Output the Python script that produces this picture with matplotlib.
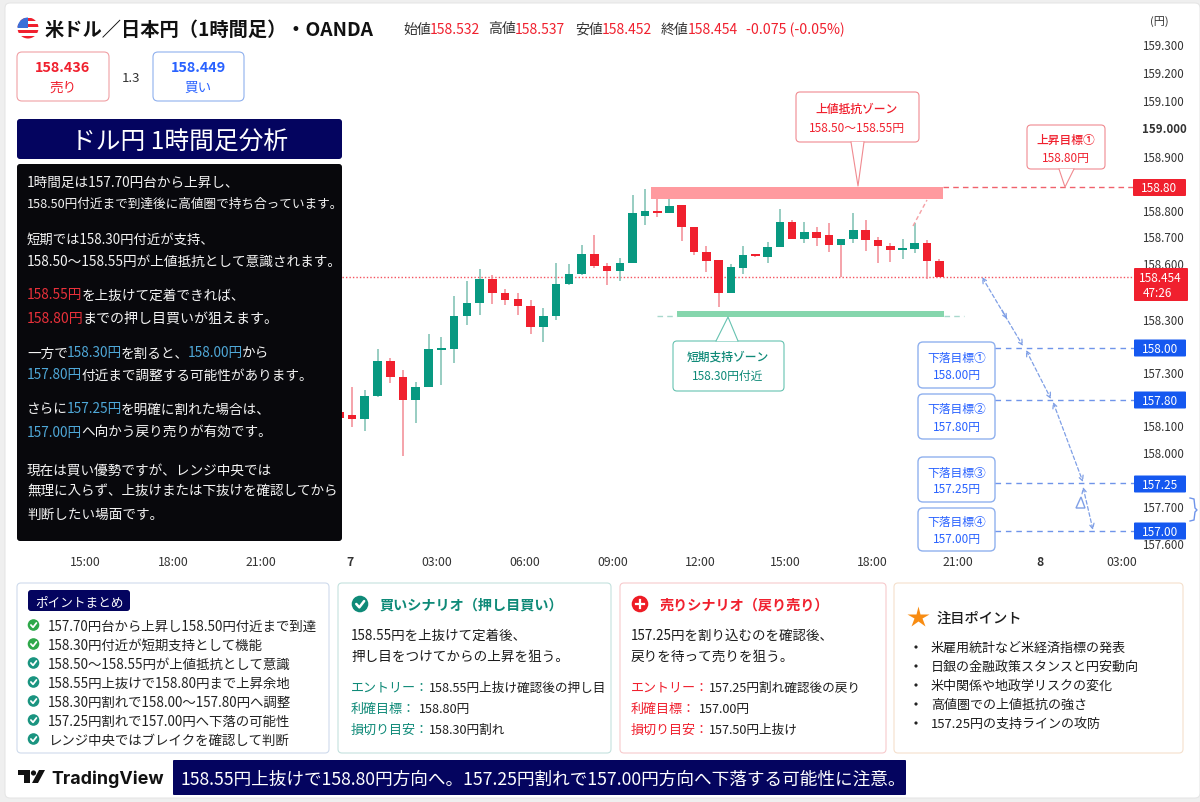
import matplotlib
matplotlib.use('Agg')
import matplotlib.pyplot as plt
import numpy as np
from matplotlib.patches import Circle, FancyBboxPatch, Polygon, Rectangle

plt.rcParams['font.family'] = ['Noto Sans CJK JP', 'DejaVu Sans']

# candles (hourly)
opens = [157.935, 157.923, 157.907, 157.996, 158.130, 158.068, 157.981, 158.030, 158.173, 158.176,
         158.304, 158.353, 158.448, 158.394, 158.368, 158.344, 158.263, 158.304, 158.427, 158.466,
         158.544, 158.496, 158.478, 158.509, 158.689, 158.709, 158.701, 158.730, 158.648, 158.549,
         158.519, 158.391, 158.490, 158.541, 158.532, 158.571, 158.664, 158.601, 158.626, 158.614,
         158.578, 158.599, 158.635, 158.596, 158.573, 158.557, 158.560, 158.585, 158.517]
highs = [157.960, 158.030, 158.019, 158.178, 158.141, 158.096, 158.050, 158.235, 158.224, 158.381,
         158.437, 158.486, 158.462, 158.407, 158.391, 158.366, 158.333, 158.509, 158.503, 158.578,
         158.614, 158.506, 158.526, 158.769, 158.791, 158.769, 158.757, 158.730, 158.648, 158.573,
         158.519, 158.503, 158.573, 158.541, 158.590, 158.714, 158.673, 158.667, 158.648, 158.663,
         158.599, 158.699, 158.673, 158.609, 158.583, 158.599, 158.663, 158.596, 158.522]
lows = [157.880, 157.876, 157.863, 157.994, 158.045, 157.766, 157.891, 158.030, 158.039, 158.122,
        158.268, 158.307, 158.350, 158.345, 158.307, 158.235, 158.205, 158.289, 158.423, 158.462,
        158.487, 158.423, 158.440, 158.506, 158.653, 158.686, 158.699, 158.594, 158.539, 158.475,
        158.340, 158.391, 158.466, 158.532, 158.506, 158.571, 158.600, 158.586, 158.573, 158.550,
        158.455, 158.586, 158.553, 158.509, 158.513, 158.522, 158.545, 158.448, 158.453]
closes = [157.910, 157.907, 157.996, 158.130, 158.068, 157.981, 158.030, 158.176, 158.178, 158.304,
          158.353, 158.445, 158.394, 158.366, 158.342, 158.263, 158.304, 158.427, 158.466, 158.544,
          158.496, 158.478, 158.509, 158.699, 158.709, 158.701, 158.728, 158.648, 158.549, 158.517,
          158.391, 158.491, 158.540, 158.533, 158.571, 158.666, 158.600, 158.626, 158.604, 158.578,
          158.599, 158.635, 158.596, 158.573, 158.557, 158.564, 158.585, 158.517, 158.454]

time_labels = ['15:00', '18:00', '21:00', '7', '03:00', '06:00', '09:00', '12:00',
               '15:00', '18:00', '21:00', '8', '03:00']
price_labels = ['159.300', '159.200', '159.100', '159.000', '158.900', '158.800', '158.700',
                '158.600', '158.300', '157.300', '158.100', '158.000', '157.700', '157.600']

# analysis panel: list of lines, each one a list of (text, colour key)
analysis_lines = [
    [('1時間足は157.70円台から上昇し、', 'w')],
    [('158.50円付近まで到達後に高値圏で持ち合っています。', 'w')],
    [('短期では158.30円付近が支持、', 'w')],
    [('158.50〜158.55円が上値抵抗として意識されます。', 'w')],
    [('158.55円', 'r'), ('を上抜けて定着できれば、', 'w')],
    [('158.80円', 'r'), ('までの押し目買いが狙えます。', 'w')],
    [('一方で', 'w'), ('158.30円', 'b'), ('を割ると、', 'w'), ('158.00円', 'b'), ('から', 'w')],
    [('157.80円', 'b'), ('付近まで調整する可能性があります。', 'w')],
    [('さらに', 'w'), ('157.25円', 'b'), ('を明確に割れた場合は、', 'w')],
    [('157.00円', 'b'), ('へ向かう戻り売りが有効です。', 'w')],
    [('現在は買い優勢ですが、レンジ中央では', 'w')],
    [('無理に入らず、上抜けまたは下抜けを確認してから', 'w')],
    [('判断したい場面です。', 'w')],
]
summary_items = ['157.70円台から上昇し158.50円付近まで到達', '158.30円付近が短期支持として機能',
                 '158.50〜158.55円が上値抵抗として意識', '158.55円上抜けで158.80円まで上昇余地',
                 '158.30円割れで158.00〜157.80円へ調整', '157.25円割れで157.00円へ下落の可能性',
                 'レンジ中央ではブレイクを確認して判断']
watch_items = ['米雇用統計など米経済指標の発表', '日銀の金融政策スタンスと円安動向',
               '米中関係や地政学リスクの変化', '高値圏での上値抵抗の強さ', '157.25円の支持ラインの攻防']

GREEN = '#089981'
RED = '#f0202e'
BLUE = '#2962ff'
NAVY = '#04045f'
TEAL = '#0f8a78'
DARK = '#1c1c1c'
W, H = 1200, 802


def price_at(y_px):
    # chart scale: 158.454 sits at y=277 and 0.1 is 26 px
    return 158.454 + (277 - y_px) / 260


fig = plt.figure(figsize=(12, 8.02), dpi=100, facecolor='#efefef')


def px_axes(zorder):
    a = fig.add_axes([0, 0, 1, 1], zorder=zorder)
    a.set_xlim(0, W)
    a.set_ylim(H, 0)
    a.axis('off')
    a.patch.set_alpha(0)
    return a


bg = px_axes(0)
bg.add_patch(FancyBboxPatch((5, 3), 1195, 795, boxstyle='round,pad=0,rounding_size=5',
                            fc='white', ec='#e6e6e6', lw=0.8))

# chart area, x in px because the candles are not evenly spaced in the picture
top_px, bottom_px, right_px = 38, 552, 1135
ax = fig.add_axes([0, 1 - bottom_px / H, right_px / W, (bottom_px - top_px) / H], zorder=1)
ax.patch.set_alpha(0)
ax.set_xlim(0, right_px)
ax.set_ylim(price_at(bottom_px), price_at(top_px))
for s in ax.spines.values():
    s.set_visible(False)

idx = np.arange(len(opens))
xs = np.interp(idx, [0, 1, 23, 48], [339.2, 352, 632.7, 939.3])
for i, x in enumerate(xs):
    up = closes[i] >= opens[i]
    col = GREEN if up else RED
    wick = '#7cc0b2' if up and i != 40 else '#f28a93'
    ax.vlines(x, lows[i], highs[i], color=wick, lw=1.1, zorder=2)
    ax.add_patch(Rectangle((x - 4.3, min(opens[i], closes[i])), 8.6,
                           max(abs(closes[i] - opens[i]), 0.006), fc=col, ec='none', zorder=3))
ax.hlines(closes[-1], 342, right_px, color='#f5525e', lw=1.0, ls=(0, (1, 1.5)), zorder=1)

ax.set_xticks([85, 173, 261, 350, 437, 525, 613, 700, 785, 872, 958, 1040, 1122])
ax.set_xticklabels(time_labels, fontsize=8.8, color='#333333')
for lab, name in zip(ax.get_xticklabels(), time_labels):
    if len(name) == 1:
        lab.set_fontweight('bold')
ax.tick_params(axis='x', length=0, pad=3)
ax.yaxis.tick_right()
ax.set_yticks(price_at(np.array([45, 73, 101, 128, 157, 211, 237, 264, 320, 373, 426, 453, 507, 544])))
ax.set_yticklabels(price_labels, fontsize=8.3, color='#333333')
ax.get_yticklabels()[3].set_fontweight('bold')
ax.tick_params(axis='y', length=0, pad=5)

ov = px_axes(2)
renderer = fig.canvas.get_renderer()


def box(x0, y0, x1, y1, fc='white', ec='none', lw=0.8, r=4, **kw):
    ov.add_patch(FancyBboxPatch((x0, y0), x1 - x0, y1 - y0, boxstyle=f'round,pad=0,rounding_size={r}',
                                fc=fc, ec=ec, lw=lw, **kw))


def label(x, y, s, size=9, color=DARK, weight='normal', ha='center'):
    return ov.text(x, y, s, fontsize=size, color=color, fontweight=weight, ha=ha, va='center_baseline')


def rich(x, y, parts, size, weight='normal'):
    # text pieces in a row, each starts where the last one ended
    for s, c in parts:
        t = label(x, y, s, size=size, color=c, weight=weight, ha='left')
        x += t.get_window_extent(renderer).width - 1


def tail(x0, x1, tipx, tipy, basey, ec):
    # pointer of a callout, white fill hides the box border under it
    ov.add_patch(Polygon([(x0, basey), (tipx, tipy), (x1, basey)], closed=False, fc='white', ec='none', zorder=3))
    ov.plot([x0, tipx, x1], [basey, tipy, basey], color=ec, lw=0.8, zorder=3)


def check(x, y, r, col):
    ov.add_patch(Circle((x, y), r, fc=col, ec='none', zorder=4))
    ov.plot([x - r * .45, x - r * .08, x + r * .5], [y, y + r * .4, y - r * .35], color='white',
            lw=r * .22, zorder=5, solid_capstyle='round')


# header
flag = Circle((28, 28), 10.5, transform=ov.transData)
for k in range(7):
    s = Rectangle((17, 17.5 + k * 3), 22, 3, fc=RED if k % 2 == 0 else 'white', ec='none')
    ov.add_patch(s)
    s.set_clip_path(flag)
canton = Rectangle((17, 17), 11, 11, fc='#3c6fd8', ec='none')
ov.add_patch(canton)
canton.set_clip_path(flag)
label(45, 28, '米ドル／日本円（1時間足）・OANDA', size=13.85, weight='bold', ha='left', color='#111111')
for lx, name, val in [(403, '始値', '158.532'), (488, '高値', '158.537'), (575, '安値', '158.452'), (661, '終値', '158.454')]:
    rich(lx, 28, [(name, '#333333'), (val, RED)], 10)
label(746, 28, '-0.075 (-0.05%)', size=10.2, color=RED, ha='left')
label(1159, 20, '(円)', size=8, color='#333333')

box(17, 52, 109, 101, ec='#f0a0a5', r=5)
label(63, 66, '158.436', size=10.4, color=RED, weight='bold')
label(63, 86, '売り', size=9.8, color=RED)
label(131, 77, '1.3', size=9.5, color='#333333')
box(153, 52, 244, 101, ec='#8fb0ee', r=5)
label(198, 66, '158.449', size=10.4, color=BLUE, weight='bold')
label(198, 86, '買い', size=9.8, color=BLUE)

# analysis panel
box(17, 119, 342, 159, fc=NAVY, r=3)
label(180, 140, 'ドル円 1時間足分析', size=17.8, color='white')
box(17, 164, 342, 541, fc='#08080c', r=3)
keys = {'w': '#f4f4f4', 'r': '#e8303a', 'b': '#4fa8d8'}
line_sizes = [9.8, 9.13, 9.6, 9.8, 9.8, 10.1, 9.8, 9.8, 9.8, 9.8, 9.8, 9.75, 9.8]
line_ys = [181, 203, 238, 260, 294, 317, 352, 374, 408, 431, 469, 490, 513]
for y, size, parts in zip(line_ys, line_sizes, analysis_lines):
    rich(27, y, [(s, keys[c]) for s, c in parts], size)

# zones and level lines
ov.add_patch(Rectangle((651, 187), 292, 12, fc='#ff9a9f', ec='none', zorder=1))
ov.plot([943, 1134], [187, 187], color='#f0626c', lw=1, ls=(0, (4, 3)), zorder=1)
ov.add_patch(Rectangle((677, 311), 267, 6, fc='#86d6ad', ec='none', zorder=1))
ov.plot([657, 677], [316, 316], color='#a8d8cc', lw=1, ls=(0, (4, 3)), zorder=1)
ov.plot([944, 964], [316, 316], color='#a8d8cc', lw=1, ls=(0, (4, 3)), zorder=1)
ov.plot([913, 927], [226, 200], color='#f5a0a5', lw=1, ls=(0, (3, 2)), zorder=1)

box(796, 92, 919, 142, ec='#f08a90', r=4)
tail(851, 864, 858, 186, 142, '#f08a90')
label(857, 108, '上値抵抗ゾーン', size=8.5, color=RED, weight='medium')
label(857, 127, '158.50〜158.55円', size=8.5, color=RED)
box(1027, 125, 1105, 169, ec='#f08a90', r=4)
tail(1059, 1074, 1065, 187, 169, '#f08a90')
label(1066, 139, '上昇目標①', size=8.5, color=RED, weight='medium')
label(1066, 157, '158.80円', size=8.5, color=RED)
box(673, 341, 784, 391, ec='#66c2b0', r=4)
tail(716, 738, 728, 317, 341, '#66c2b0')
label(728, 356, '短期支持ゾーン', size=8.5, color=TEAL, weight='medium')
label(728, 375, '158.30円付近', size=8.5, color=TEAL)

for y0, y1, t1, t2, name, val in [(342, 388, 357, 374, '下落目標①', '158.00円'), (394, 439, 408, 426, '下落目標②', '157.80円'),
                                  (457, 502, 472, 488, '下落目標③', '157.25円'), (508, 551, 521, 538, '下落目標④', '157.00円')]:
    box(918, y0, 995, y1, ec='#8fb0ee', lw=1.0, r=5)
    label(957, t1, name, size=8.5, color=BLUE)
    label(957, t2, val, size=8.5, color=BLUE)
for y in [348, 400, 483, 531]:
    ov.plot([995, 1134], [y, y], color='#6f94ea', lw=1, ls=(0, (4, 3.5)), zorder=1)

# dashed path down to the targets
for a, b in [((982, 277), (1023, 346)), ((1026, 350), (1051, 399)), ((1053, 402), (1083, 482)), ((1083, 487), (1093, 530))]:
    ov.annotate('', xy=b, xytext=a, arrowprops=dict(arrowstyle='<->', color='#7f9fe6', lw=0.9, ls=(0, (3, 2)),
                                                    shrinkA=0, shrinkB=0, mutation_scale=9))
ov.annotate('', xy=(1007, 319), xytext=(1002, 310), arrowprops=dict(arrowstyle='->', color='#7f9fe6', lw=0.9,
                                                                    shrinkA=0, shrinkB=0, mutation_scale=7))
ov.add_patch(Polygon([(1081, 497), (1076, 508), (1085, 508)], fc='white', ec='#7f9fe6', lw=1))
ov.plot([1190, 1194, 1195, 1197, 1195, 1194, 1190], [498, 499, 508, 510, 512, 520, 521], color='#6f94ea', lw=1)

# tags on the price scale
box(1133, 179, 1186, 196, fc=RED, r=1)
label(1159, 187.5, '158.80', size=8.5, color='white')
box(1134, 268, 1188, 301, fc=RED, r=1)
label(1160, 277, '158.454', size=8.5, color='white')
label(1157, 292, '47:26', size=8.5, color='white')
for y, s in [(348, '158.00'), (400, '157.80'), (484, '157.25'), (531, '157.00')]:
    box(1134, y - 8.5, 1186, y + 8.5, fc='#1558f0', r=1)
    label(1160, y, s, size=8.5, color='white')

# summary cards
box(17, 583, 329, 753, ec='#cfdbec', r=4)
box(28, 590, 130, 611, fc=NAVY, r=3)
label(79, 601, 'ポイントまとめ', size=9.1, color='white')
for k, (y, s) in enumerate(zip([625, 644, 663, 682, 701, 720, 739], summary_items)):
    check(33.5, y, 5.8, '#2ea84a' if k < 2 else '#1a9480')
    label(48, y, s, size=9.68, color='#222222', ha='left')

box(338, 583, 611, 753, ec='#c4e2de', r=4)
check(360, 604, 8.3, TEAL)
label(379, 604, '買いシナリオ（押し目買い）', size=10.2, color=TEAL, weight='bold', ha='left')
label(351, 634, '158.55円を上抜けて定着後、', size=9.7, ha='left')
label(351, 655, '押し目をつけてからの上昇を狙う。', size=9.8, ha='left')
for y, name, val, off in [(687, 'エントリー：', '158.55円上抜け確認後の押し目', 78), (708, '利確目標：', '158.80円', 68),
                          (729, '損切り目安：', '158.30円割れ', 78)]:
    label(351, y, name, size=9.4, color=TEAL, ha='left')
    label(351 + off, y, val, size=9.1, ha='left')

box(620, 583, 886, 753, ec='#f7cacc', r=4)
ov.add_patch(Circle((640, 604), 8.3, fc='#ee1c25', ec='none', zorder=4))
ov.plot([636, 644], [604, 604], color='white', lw=1.6, zorder=5)
ov.plot([640, 640], [600, 608], color='white', lw=1.6, zorder=5)
label(660, 604, '売りシナリオ（戻り売り）', size=10.2, color=RED, weight='bold', ha='left')
label(631, 634, '157.25円を割り込むのを確認後、', size=9.7, ha='left')
label(631, 655, '戻りを待って売りを狙う。', size=9.8, ha='left')
for y, name, val, off in [(687, 'エントリー：', '157.25円割れ確認後の戻り', 78), (708, '利確目標：', '157.00円', 68),
                          (729, '損切り目安：', '157.50円上抜け', 78)]:
    label(631, y, name, size=9.4, color=RED, ha='left')
    label(631 + off, y, val, size=9.1, ha='left')

box(894, 583, 1183, 753, ec='#f5e0cc', r=4)
ov.plot([918], [617], marker='*', ms=16, color='#f88c12', mec='none')
label(936, 617, '注目ポイント', size=10.3, weight='medium', ha='left')
for y, s in zip([647, 666, 685, 704, 723], watch_items):
    ov.add_patch(Circle((916, y), 1.6, fc='#222222', ec='none'))
    label(931, y, s, size=9.4, ha='left')

# footer
ov.add_patch(Polygon([(18, 770), (30, 770), (30, 783), (24, 783), (24, 775), (18, 775)], fc='#111111', ec='none'))
ov.add_patch(Circle((33.5, 773), 2.6, fc='#111111', ec='none'))
ov.add_patch(Polygon([(39, 770), (45, 770), (38, 783), (32, 783)], fc='#111111', ec='none'))
ov.text(51, 777, 'TradingView', fontsize=12.9, family='Inter', fontweight='bold', color='#111111', ha='left', va='center_baseline')
box(173, 760, 906, 795, fc=NAVY, r=1)
label(180, 778, '158.55円上抜けで158.80円方向へ。157.25円割れで157.00円方向へ下落する可能性に注意。', size=12.7,
      color='white', ha='left')

fig.savefig('out.png', dpi=100)
